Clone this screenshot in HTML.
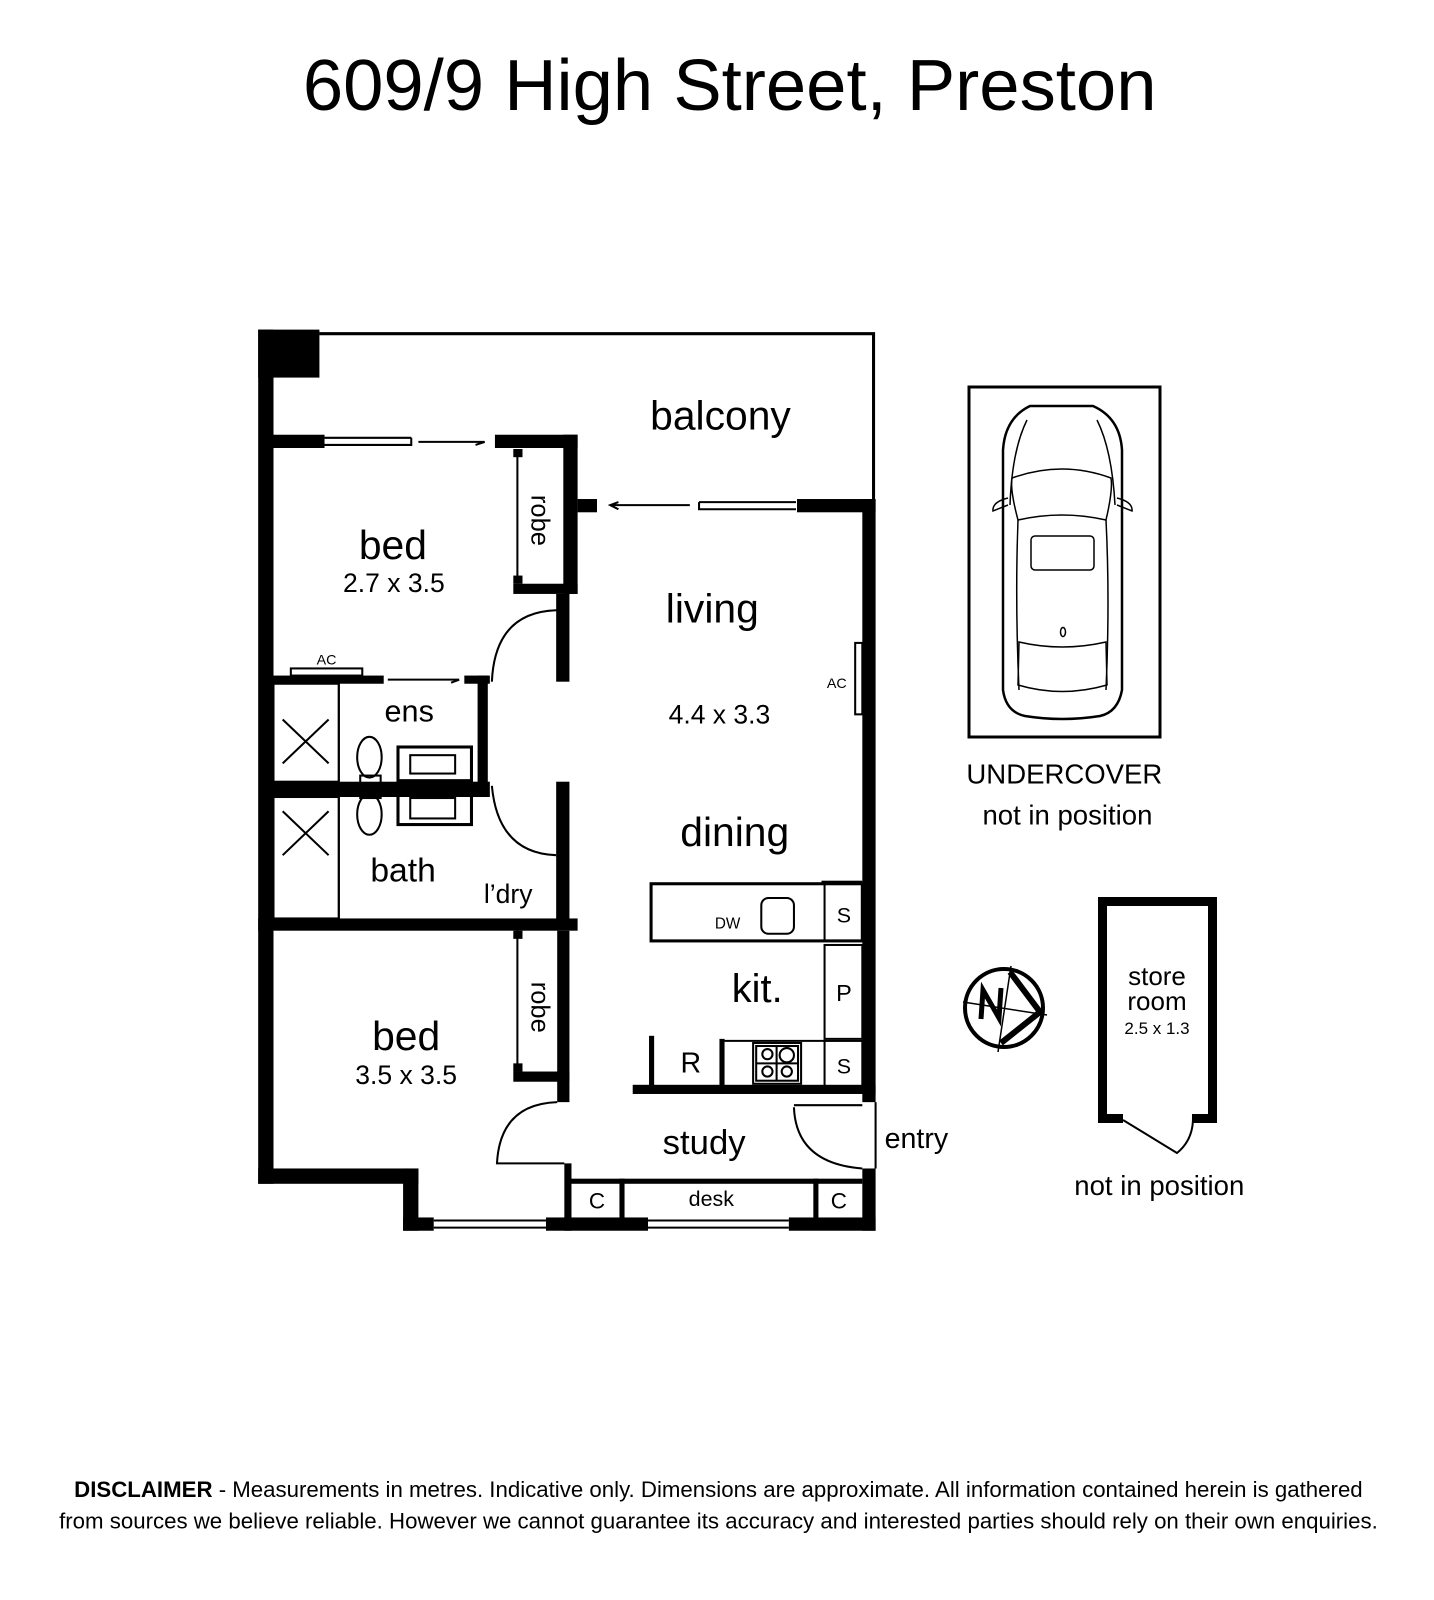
<!DOCTYPE html>
<html><head><meta charset="utf-8"><style>
html,body{margin:0;padding:0;background:#fff}
svg{display:block}
text{font-family:"Liberation Sans",Arial,sans-serif;fill:#000}
</style></head><body>
<svg width="1434" height="1600" viewBox="0 0 1434 1600" xmlns="http://www.w3.org/2000/svg">
<g transform="scale(1.0205)">
<text x="715" y="108" font-size="71" text-anchor="middle">609/9 High Street, Preston</text>

<g fill="#000">
<rect x="253" y="323" width="60" height="47"/>
<rect x="253" y="323" width="15" height="837"/>
<rect x="253" y="1145" width="157" height="15"/>
<rect x="395" y="1145" width="15" height="61"/>
<rect x="395" y="1193" width="30" height="13"/>
<rect x="535" y="1193" width="100" height="13"/>
<rect x="773" y="1193" width="85" height="13"/>
<rect x="845" y="489" width="13" height="591"/>
<rect x="845" y="1145" width="13" height="61"/>
<rect x="268" y="426" width="50" height="13"/>
<rect x="485" y="426" width="81" height="13"/>
<rect x="552" y="426" width="14" height="156"/>
<rect x="503" y="572" width="63" height="10"/>
<rect x="503" y="440" width="9" height="8"/>
<rect x="503" y="564" width="9" height="8"/>
<rect x="566" y="489" width="19" height="13"/>
<rect x="781" y="489" width="77" height="13"/>
<rect x="545" y="582" width="13" height="86"/>
<rect x="268" y="662" width="108" height="8"/>
<rect x="455" y="662" width="25" height="8"/>
<rect x="468" y="662" width="10" height="110"/>
<rect x="268" y="766" width="212" height="15"/>
<rect x="545" y="766" width="13" height="139"/>
<rect x="253" y="900" width="313" height="12"/>
<rect x="546" y="912" width="12" height="168"/>
<rect x="503" y="1050" width="55" height="10"/>
<rect x="503" y="912" width="9" height="8"/>
<rect x="503" y="1042" width="9" height="8"/>
<rect x="553" y="1140" width="7" height="66"/>
<rect x="620" y="1063" width="238" height="9"/>
<rect x="636" y="1015" width="5" height="50"/>
<rect x="705" y="1018" width="5" height="47"/>
<rect x="805" y="863" width="40" height="4"/>
<rect x="558" y="1155" width="287" height="5"/>
<rect x="607" y="1155" width="5" height="40"/>
<rect x="797" y="1155" width="5" height="40"/>
</g>

<g fill="none" stroke="#000" stroke-width="2">
<path d="M313 327 H856 V490" stroke-width="3"/>
<path d="M318 429 H403 M318 436 H403 M403 429 V437"/>
<path d="M685 492 H780 M685 499 H780 M685 492 V500"/>
<path d="M425 1196 H535 M425 1203 H535"/>
<path d="M635 1196 H773 M635 1203 H773"/>
<path d="M410 433 H475 M466 436 L475 433"/>
<path d="M598 495 H676 M606 492 L598 495 L606 499"/>
<path d="M380 666 H450 M442 669 L450 666"/>
<path d="M507 440 V572 M507 912 V1050"/>
<rect x="285" y="655" width="70" height="7"/>
<rect x="838" y="630" width="7" height="70"/>
<path d="M482 668 Q485 600 545 598 H550"/>
<path d="M482 770 Q488 836 545 838"/>
<path d="M546 1080 Q490 1082 487 1140 H553"/>
<path d="M778 1085 Q780 1140 845 1145 M778 1083 H845 M858 1080 V1145" />
<rect x="268" y="670" width="64" height="96"/>
<path d="M277 705 L322 748 M322 705 L277 748"/>
<rect x="268" y="781" width="64" height="119"/>
<path d="M277 795 L322 838 M322 795 L277 838"/>
<path d="M332 670 V900"/>
<ellipse cx="362" cy="742" rx="12" ry="20"/>
<ellipse cx="362" cy="798" rx="12" ry="20"/>
<rect x="353" y="760" width="20" height="22"/>
<rect x="390" y="732" width="72" height="33" stroke-width="3"/>
<rect x="402" y="740" width="44" height="18"/>
<rect x="390" y="776" width="72" height="32" stroke-width="3"/>
<rect x="402" y="782" width="44" height="20"/>
<rect x="638" y="866" width="207" height="56" stroke-width="3"/>
<path d="M808 866 V922"/>
<rect x="746" y="880" width="32" height="35" rx="7"/>
<rect x="808" y="926" width="37" height="92"/>
<rect x="808" y="1020" width="37" height="45"/>
<path d="M710 1020 H808"/>
<rect x="738" y="1022" width="47" height="40"/>
<rect x="741" y="1025" width="41" height="34"/>
<circle cx="752" cy="1033" r="5"/><circle cx="771" cy="1034" r="7"/>
<circle cx="752" cy="1050" r="5"/><circle cx="771" cy="1050" r="5"/>
<path d="M761 1025 V1059 M741 1042 H782"/>
</g>

<text x="1043" y="768" font-size="27" text-anchor="middle">UNDERCOVER</text>
<text x="1046" y="808" font-size="27" text-anchor="middle">not in position</text>
<text x="1136" y="1171" font-size="27" text-anchor="middle">not in position</text>

<text x="706" y="421" font-size="40" text-anchor="middle">balcony</text>
<text x="385" y="548" font-size="40" text-anchor="middle">bed</text>
<text x="386" y="580" font-size="26" text-anchor="middle">2.7 x 3.5</text>
<text x="521" y="510" font-size="25" text-anchor="middle" transform="rotate(90 521 510)">robe</text>
<text x="698" y="610" font-size="40" text-anchor="middle">living</text>
<text x="705" y="709" font-size="26" text-anchor="middle">4.4 x 3.3</text>
<text x="820" y="674" font-size="14" text-anchor="middle">AC</text>
<text x="320" y="651" font-size="14" text-anchor="middle">AC</text>
<text x="401" y="707" font-size="30" text-anchor="middle">ens</text>
<text x="720" y="829" font-size="40" text-anchor="middle">dining</text>
<text x="395" y="864" font-size="33" text-anchor="middle">bath</text>
<text x="498" y="885" font-size="26" text-anchor="middle">l’dry</text>
<text x="713" y="910" font-size="15" text-anchor="middle">DW</text>
<text x="827" y="904" font-size="21" text-anchor="middle">S</text>
<text x="827" y="981" font-size="23" text-anchor="middle">P</text>
<text x="827" y="1052" font-size="21" text-anchor="middle">S</text>
<text x="742" y="982" font-size="39" text-anchor="middle">kit.</text>
<text x="677" y="1051" font-size="28" text-anchor="middle">R</text>
<text x="521" y="987" font-size="25" text-anchor="middle" transform="rotate(90 521 987)">robe</text>
<text x="398" y="1029" font-size="40" text-anchor="middle">bed</text>
<text x="398" y="1062" font-size="26" text-anchor="middle">3.5 x 3.5</text>
<text x="690" y="1131" font-size="34" text-anchor="middle">study</text>
<text x="898" y="1125" font-size="28" text-anchor="middle">entry</text>
<text x="585" y="1184" font-size="22" text-anchor="middle">C</text>
<text x="697" y="1182" font-size="21" text-anchor="middle">desk</text>
<text x="822" y="1184" font-size="22" text-anchor="middle">C</text>

<text x="704" y="1467" font-size="21.8" text-anchor="middle"><tspan font-weight="bold">DISCLAIMER</tspan> - Measurements in metres. Indicative only. Dimensions are approximate. All information contained herein is gathered</text>
<text x="704" y="1498" font-size="21.8" text-anchor="middle">from sources we believe reliable. However we cannot guarantee its accuracy and interested parties should rely on their own enquiries.</text>
</g>

<rect x="969" y="387" width="191" height="350" fill="none" stroke="#000" stroke-width="3"/>
<g fill="none" stroke="#000" stroke-width="1.5">
<path d="M1030 406 H1093 Q1120 418 1122 450 V690 Q1118 712 1100 716 Q1062 722 1025 716 Q1006 712 1003 690 V450 Q1005 418 1030 406 Z" stroke-width="2.5"/>
<path d="M1012 478 Q1062 460 1111 478 Q1113 490 1106 520 Q1062 510 1018 520 Q1010 490 1012 478 Z"/>
<rect x="1031" y="536" width="63" height="34" rx="4"/>
<path d="M1019 642 Q1062 652 1106 642 L1107 685 Q1062 698 1018 685 Z"/>
<path d="M1018 520 Q1015 600 1019 690 M1106 520 Q1110 600 1106 690"/>
<path d="M1027 420 Q1012 450 1010 505 M1097 420 Q1112 450 1115 505"/>
<path d="M1008 498 Q992 502 993 511 L1008 505 M1117 498 Q1133 502 1132 511 L1117 505"/>
<ellipse cx="1063" cy="632" rx="2.5" ry="4.5"/>
</g>

<g fill="none" stroke="#000">
<circle cx="1004" cy="1008" r="39" stroke-width="4"/>
<path d="M963 1002 L1047 1015" stroke-width="1.5"/>
<path d="M1011 966 L998 1052" stroke-width="1.5"/>
<path d="M1010 972 L1040 1012 L1001 1043" stroke-width="6" stroke-linejoin="miter"/>
<path d="M981 1019 L983 990 L999 1018 L1001 988" stroke-width="5"/>
</g>

<path d="M1098 1123 V897 H1217 V1123 H1192 V1114 H1208 V906 H1107 V1114 H1123 V1123 Z" fill="#000"/>
<path d="M1123 1120 L1177 1153 Q1193 1140 1193 1118" fill="none" stroke="#000" stroke-width="2"/>
<text x="1157" y="985" font-size="26" text-anchor="middle">store</text>
<text x="1157" y="1010" font-size="26" text-anchor="middle">room</text>
<text x="1157" y="1034" font-size="17" text-anchor="middle">2.5 x 1.3</text>
</svg>
</body></html>
